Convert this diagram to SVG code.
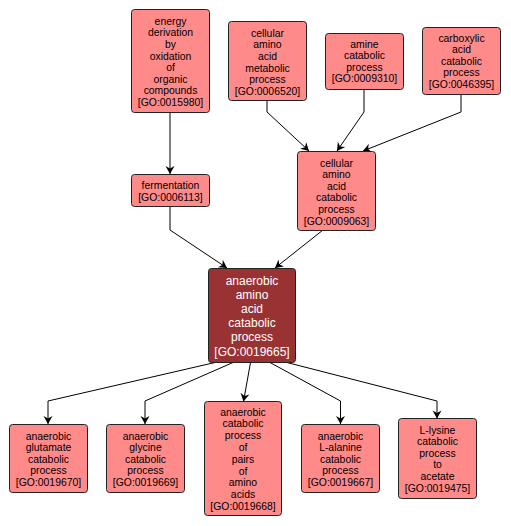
<svg xmlns="http://www.w3.org/2000/svg" width="511" height="526" viewBox="0 0 511 526">
<defs>
<style>
.n rect{fill:#ff8a8a;stroke:#222;stroke-width:1}
.n text{font-family:"Liberation Sans",Arial,sans-serif;font-size:10.4px;fill:#000;text-anchor:middle}
#main rect{fill:#993232}
#main text{fill:#fff;font-size:12px}
.e polyline{fill:none;stroke:#000;stroke-width:1;marker-end:url(#ah)}
</style>
<marker id="ah" viewBox="-9 -5 10 10" refX="0" refY="0" markerWidth="10" markerHeight="10" markerUnits="userSpaceOnUse" orient="auto">
<path d="M0,0 L-8,-4.5 L-5.5,0 L-8,4.5 Z" fill="#000"/>
</marker>
</defs>
<rect width="511" height="526" fill="#fff"/>
<g id="edges" class="e">
<polyline points="170,112 170,174"/>
<polyline points="267,100 267,112 309,151"/>
<polyline points="364,89 364,112 337,151"/>
<polyline points="461,94 461,112 363,151"/>
<polyline points="170,206 170,230 227,268"/>
<polyline points="323,230 275,268"/>
<polyline points="215,362.5 48,401 48,424"/>
<polyline points="233,362.5 145,401 145,424"/>
<polyline points="250.5,362.5 243.5,401.5"/>
<polyline points="270,362.5 340.5,401 340.5,424"/>
<polyline points="287,362.5 437,401 437,418.5"/>
</g>
<g id="n_energy" class="n"><rect x="131.5" y="9.5" width="78" height="103" rx="3"/>
<text y="24.7"><tspan x="170.5">energy</tspan><tspan x="170.5" dy="11.6">derivation</tspan><tspan x="170.5" dy="11.6">by</tspan><tspan x="170.5" dy="11.6">oxidation</tspan><tspan x="170.5" dy="11.6">of</tspan><tspan x="170.5" dy="11.6">organic</tspan><tspan x="170.5" dy="11.6">compounds</tspan><tspan x="170.5" dy="11.6">[GO:0015980]</tspan></text></g>
<g id="n_cellmeta" class="n"><rect x="228.5" y="21.5" width="78" height="79" rx="3"/>
<text y="36.7"><tspan x="267.5">cellular</tspan><tspan x="267.5" dy="11.6">amino</tspan><tspan x="267.5" dy="11.6">acid</tspan><tspan x="267.5" dy="11.6">metabolic</tspan><tspan x="267.5" dy="11.6">process</tspan><tspan x="267.5" dy="11.6">[GO:0006520]</tspan></text></g>
<g id="n_amine" class="n"><rect x="325.5" y="33.5" width="78" height="56" rx="3"/>
<text y="47.5"><tspan x="364.5">amine</tspan><tspan x="364.5" dy="11.6">catabolic</tspan><tspan x="364.5" dy="11.6">process</tspan><tspan x="364.5" dy="11.6">[GO:0009310]</tspan></text></g>
<g id="n_carbox" class="n"><rect x="422.5" y="27.5" width="78" height="67" rx="3"/>
<text y="41.5"><tspan x="461.5">carboxylic</tspan><tspan x="461.5" dy="11.6">acid</tspan><tspan x="461.5" dy="11.6">catabolic</tspan><tspan x="461.5" dy="11.6">process</tspan><tspan x="461.5" dy="11.6">[GO:0046395]</tspan></text></g>
<g id="n_ferm" class="n"><rect x="131.5" y="174.5" width="78" height="32" rx="3"/>
<text y="189"><tspan x="170.5">fermentation</tspan><tspan x="170.5" dy="11.6">[GO:0006113]</tspan></text></g>
<g id="n_cellcat" class="n"><rect x="297.5" y="151.5" width="78" height="79" rx="3"/>
<text y="166.5"><tspan x="336.5">cellular</tspan><tspan x="336.5" dy="11.6">amino</tspan><tspan x="336.5" dy="11.6">acid</tspan><tspan x="336.5" dy="11.6">catabolic</tspan><tspan x="336.5" dy="11.6">process</tspan><tspan x="336.5" dy="11.6">[GO:0009063]</tspan></text></g>
<g id="main" class="n"><rect x="208.5" y="268.5" width="87" height="94" rx="3"/>
<text y="285"><tspan x="252">anaerobic</tspan><tspan x="252" dy="14.1">amino</tspan><tspan x="252" dy="14.1">acid</tspan><tspan x="252" dy="14.1">catabolic</tspan><tspan x="252" dy="14.1">process</tspan><tspan x="252" dy="14.1">[GO:0019665]</tspan></text></g>
<g id="n_glut" class="n"><rect x="9.5" y="424.5" width="78" height="68" rx="3"/>
<text y="439.5"><tspan x="48.5">anaerobic</tspan><tspan x="48.5" dy="11.6">glutamate</tspan><tspan x="48.5" dy="11.6">catabolic</tspan><tspan x="48.5" dy="11.6">process</tspan><tspan x="48.5" dy="11.6">[GO:0019670]</tspan></text></g>
<g id="n_gly" class="n"><rect x="106.5" y="424.5" width="78" height="68" rx="3"/>
<text y="439.5"><tspan x="145.5">anaerobic</tspan><tspan x="145.5" dy="11.6">glycine</tspan><tspan x="145.5" dy="11.6">catabolic</tspan><tspan x="145.5" dy="11.6">process</tspan><tspan x="145.5" dy="11.6">[GO:0019669]</tspan></text></g>
<g id="n_pairs" class="n"><rect x="204.5" y="401.5" width="77" height="114" rx="3"/>
<text y="415.5"><tspan x="243">anaerobic</tspan><tspan x="243" dy="11.8">catabolic</tspan><tspan x="243" dy="11.8">process</tspan><tspan x="243" dy="11.8">of</tspan><tspan x="243" dy="11.8">pairs</tspan><tspan x="243" dy="11.8">of</tspan><tspan x="243" dy="11.8">amino</tspan><tspan x="243" dy="11.8">acids</tspan><tspan x="243" dy="11.8">[GO:0019668]</tspan></text></g>
<g id="n_ala" class="n"><rect x="301.5" y="424.5" width="78" height="68" rx="3"/>
<text y="439.5"><tspan x="340.5">anaerobic</tspan><tspan x="340.5" dy="11.6">L-alanine</tspan><tspan x="340.5" dy="11.6">catabolic</tspan><tspan x="340.5" dy="11.6">process</tspan><tspan x="340.5" dy="11.6">[GO:0019667]</tspan></text></g>
<g id="n_lys" class="n"><rect x="398.5" y="418.5" width="78" height="80" rx="3"/>
<text y="433.5"><tspan x="437.5">L-lysine</tspan><tspan x="437.5" dy="11.6">catabolic</tspan><tspan x="437.5" dy="11.6">process</tspan><tspan x="437.5" dy="11.6">to</tspan><tspan x="437.5" dy="11.6">acetate</tspan><tspan x="437.5" dy="11.6">[GO:0019475]</tspan></text></g>
</svg>
